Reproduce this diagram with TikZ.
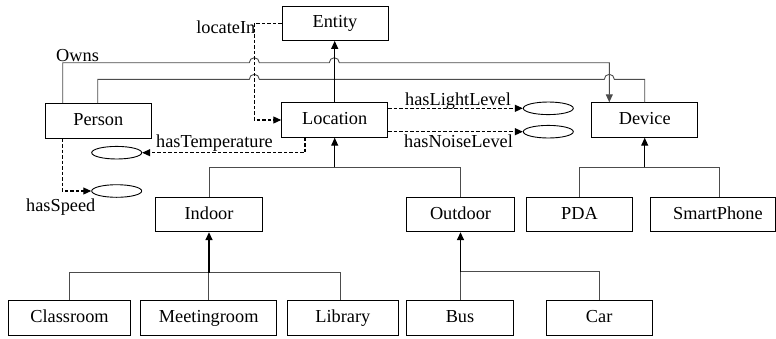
\documentclass[tikz,border=0pt]{standalone}
\usepackage{fontspec}
\setmainfont{Liberation Serif}
\usetikzlibrary{arrows.meta,shapes.geometric}
\begin{document}
\begin{tikzpicture}[x=1pt,y=-1pt,
  every node/.style={font=\fontsize{18.3}{21}\selectfont},
  box/.style={draw, line width=0.9pt, minimum height=34.5pt, inner sep=0pt, text height=12.5pt, text depth=3.5pt},
  conn/.style={line width=0.9pt, draw=black!70},
  sconn/.style={line width=1.1pt, draw=black},
  dconn/.style={line width=1.1pt, draw=black, dash pattern=on 3.5pt off 2pt},
  tip/.style={-{Triangle[length=8pt,width=7pt]}},
  oval/.style={draw, line width=0.9pt, ellipse, minimum width=50pt, minimum height=12.6pt, inner sep=0pt},
  lbl/.style={inner sep=0pt}]
\useasboundingbox (0,0) rectangle (776,338);
% boxes
\node[box, minimum width=106pt] (Entity) at (335,23.2) {Entity};
\node[box, minimum width=106.7pt] (Person) at (98.3,120.8) {Person};
\node[box, minimum width=106pt] (Location) at (334.7,120) {Location};
\node[box, minimum width=106pt] (Device) at (644.7,120) {Device};
\node[box, minimum width=106.6pt] (Indoor) at (209,214.5) {Indoor};
\node[box, minimum width=107.6pt] (Outdoor) at (460.5,214.5) {Outdoor};
\node[box, minimum width=105.6pt] (PDA) at (579.5,214.5) {PDA};
\node[box, minimum width=124.3pt] (SmartPhone) at (712.9,214.5) {\hspace*{10pt}SmartPhone};
\node[box, minimum width=122.4pt] (Classroom) at (69.5,317.8) {Classroom};
\node[box, minimum width=136pt] (Meetingroom) at (208.7,317.8) {Meetingroom};
\node[box, minimum width=111pt] (Library) at (342.8,317.8) {Library};
\node[box, minimum width=106.6pt] (Bus) at (460,317.8) {Bus};
\node[box, minimum width=106.3pt] (Car) at (599.2,317.8) {Car};
% ellipses
\node[oval] (Temp) at (116.7,152.7) {};
\node[oval] (Speed) at (116.7,191) {};
\node[oval] (Light) at (548.3,108.3) {};
\node[oval] (Noise) at (548.3,131.7) {};
% labels
\node[lbl, anchor=base west] (lOwns) at (56,61) {Owns};
\node[lbl, anchor=base east] (lLoc) at (255.5,33.5) {locateIn};
\node[lbl, anchor=base west] (lTemp) at (156,147.5) {hasTemperature};
\node[lbl, anchor=base west] (lLight) at (405,105) {hasLightLevel};
\node[lbl, anchor=base west] (lNoise) at (404,147.5) {hasNoiseLevel};
\node[lbl, anchor=base west] (lSpeed) at (26,211) {hasSpeed};
% coordinates
\coordinate (oA) at (62.7,0 |- Person.north);
\coordinate (oB) at (97.7,0 |- Person.north);
\coordinate (dA) at (609.3,0 |- Device.north);
\coordinate (lv) at (254.3,0 |- Location.west);
% Owns lines with jumps
\draw[conn, tip] (oA) -- (62.7,62.7) -- (249.3,62.7) arc (180:360:5) -- (329.3,62.7) arc (180:360:5) -- (609.3,62.7) -- (dA);
\draw[conn] (oB) -- (97.7,79.3) -- (249.3,79.3) arc (180:360:5) -- (604.3,79.3) arc (180:360:5) -- (Device.north |- 0,79.3) -- (Device.north);
% Entity <- Location
\draw[sconn, tip] (Location.north) -- (Location.north |- Entity.south);
% locateIn
\draw[dconn, tip] (Entity.west) -- (254.3,0 |- Entity.west) -- (lv) -- (Location.west);
% properties
\draw[dconn, tip] (305,0 |- Location.south) -- (305,152.7) -- (Temp.east);
\draw[dconn, tip] (Location.east |- 0,108.3) -- (Light.west);
\draw[dconn, tip] (Location.east |- 0,131.7) -- (Noise.west);
\draw[dconn, tip] (62.3,0 |- Person.south) -- (62.3,191) -- (Speed.west);
% Location tree
\draw[conn] (Indoor.north) -- (Indoor.north |- 0,167.3) -- (Outdoor.north |- 0,167.3) -- (Outdoor.north);
\draw[sconn, tip] (Location.south |- 0,167.3) -- (Location.south);
% Device tree
\draw[conn] (PDA.north) -- (PDA.north |- 0,167.3) -- (719,167.3) -- (719,0 |- SmartPhone.north);
\draw[sconn, tip] (Device.south |- 0,167.3) -- (Device.south);
% Indoor tree
\draw[conn] (Classroom.north) -- (Classroom.north |- 0,272.7) -- (340.7,272.7) -- (340.7,0 |- Library.north);
\draw[conn] (Meetingroom.north) -- (Meetingroom.north |- 0,272.7);
\draw[line width=1.6pt, tip] (Indoor.south |- 0,272.7) -- (Indoor.south);
% Outdoor tree
\draw[conn] (Bus.north) -- (Bus.north |- 0,271.7) -- (Car.north |- 0,271.7) -- (Car.north);
\draw[line width=1.6pt, tip] (Outdoor.south |- 0,271.7) -- (Outdoor.south);
\end{tikzpicture}
\end{document}
